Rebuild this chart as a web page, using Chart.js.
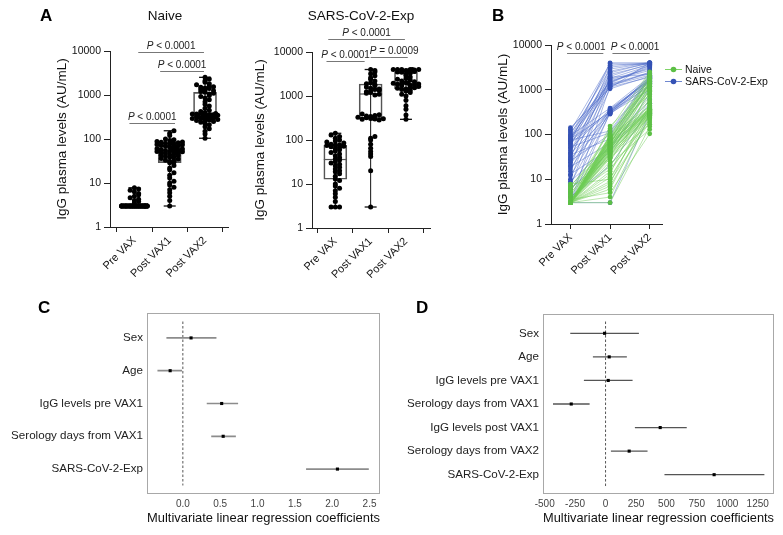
<!DOCTYPE html>
<html><head><meta charset="utf-8">
<script src="https://cdn.jsdelivr.net/npm/chart.js@4.4.0/dist/chart.umd.min.js"></script>
<style>
body{margin:0;background:#fff;width:783px;height:535px;position:relative;overflow:hidden;font-family:'Liberation Sans',Arial,sans-serif;}
canvas{position:absolute;}
.lbl{position:absolute;font-weight:bold;font-size:17px;color:#000;line-height:20px;}
.ttl{position:absolute;font-size:13.5px;color:#111;transform:translateX(-50%);white-space:nowrap;line-height:16px;}
</style></head><body>
<canvas id="a1" width="245" height="300" style="left:0;top:0"></canvas>
<canvas id="a2" width="232" height="300" style="left:248px;top:0"></canvas>
<canvas id="b" width="303" height="300" style="left:480px;top:0"></canvas>
<canvas id="c" width="400" height="245" style="left:0;top:290px"></canvas>
<canvas id="d" width="383" height="245" style="left:400px;top:290px"></canvas>
<div class="lbl" style="left:40px;top:6px">A</div>
<div class="ttl" style="left:165px;top:8px">Naive</div>
<div class="ttl" style="left:361px;top:8px">SARS-CoV-2-Exp</div>
<div class="lbl" style="left:492px;top:6px">B</div>
<div class="lbl" style="left:38px;top:298px">C</div>
<div class="lbl" style="left:416px;top:298px">D</div>
<script>
// ---------------- DATA ----------------
const categories = ['Pre VAX', 'Post VAX1', 'Post VAX2'];
const yTickValues = [1, 10, 100, 1000, 10000];

// Naive subjects (paired, one entry per subject)
const naivePre = [3,3,3.5,3,3,3,3,7.8,3,3, 3,4,3,3,3,3,6.3,3,3,3, 3,3.8,3,3,3,3,3,5,3,3,
  3,3,3,7.3,3,3,3,3,4.3,3, 3,3,3,3,5.8,3,3,3,3,3, 4.6,3,3,3,3,6.8,3,3,3,3, 3,5.4,3,3];
const naiveVax1 = [3,4,5,6,7,8,9,10,11,13,15,17,20,22,25,29,30,31,32,33,35,36,38,39,40,42,43,44,46,47,49,
  50,51,52,53,54,55,56,58,59,60,62,63,65,66,68,70,72,74,75,77,78,80,82,84,86,88,90,93,96,100,120,135,154];
const naiveVax2 = [150,260,104,300,225,500,190,340,270,1160,283,210,360,130,620,288,170,1300,240,305,
  390,250,850,320,278,1450,265,400,292,1050,330,355,1600,296,700,310,1200,368,345,1950,
  315,450,1400,325,980,372,1500,335,2100,350,1350,560,1800,365,920,1550,380,2300,1250,420,1700,780,2520,1100];

// SARS-CoV-2-Exp subjects (paired)
const sarsPre = [3,3,3,4,5,6,7,8,9,10,12,13,15,17,19,20,22,24,26,28,30,32,35,37,40,44,48,52,56,60,
  64,68,70,72,75,77,78,80,85,90,95,100,110,120,130,142];
const sarsVax1 = [3,310,1200,20,300,42,1500,340,55,2000,320,48,1050,360,65,2400,285,1300,100,350,
  3200,1700,80,295,1400,1800,375,110,2600,1150,305,4000,1600,330,120,2200,1900,315,3500,1250,390,2900,1350,3800,1450,1100];
const sarsVax2 = [295,1450,2500,370,1000,500,3100,1600,600,3800,1200,800,2000,1700,1100,4000,1300,2300,1350,1550,
  4000,2900,1400,1500,3300,3450,1650,1750,3900,1900,1800,4000,2700,1850,1880,3600,2200,1940,4000,2100,1960,4000,2400,3700,3500,4000];

// Box statistics per category: [min, q1, median, q3, max]
const naiveBox = [[3,3,3,3,7.8],[3,29,50,72,154],[104,295,370,1150,2520]];
const sarsBox = [[3,12.8,36,76,142],[3,310,1110,1870,4000],[295,1440,1950,3450,4000]];

// Panel C regression
const regCLabels = ['Sex','Age','IgG levels pre VAX1','Serology days from VAX1','SARS-CoV-2-Exp'];
const regCCoef = [0.11,-0.17,0.52,0.54,2.07];
const regCLow = [-0.22,-0.34,0.32,0.38,1.65];
const regCHigh = [0.45,-0.01,0.74,0.71,2.49];
const cTicks = [0,0.5,1,1.5,2,2.5];

// Panel D regression
const regDLabels = ['Sex','Age','IgG levels pre VAX1','Serology days from VAX1','IgG levels post VAX1','Serology days from VAX2','SARS-CoV-2-Exp'];
const regDCoef = [-8,30,22,-282,449,194,892];
const regDLow = [-290,-104,-178,-432,241,44,484];
const regDHigh = [274,175,222,-131,667,345,1305];
const dTicks = [-500,-250,0,250,500,750,1000,1250];

// ---------------- HELPERS ----------------
const FONT = "'Liberation Sans', Arial, sans-serif";
Chart.defaults.font.family = FONT;
Chart.defaults.color = '#111';

function swarm(values, center, binSize, step, maxK) {
  const bins = {};
  const per = 2 * maxK + 1;
  return values.map(v => {
    const b = Math.round(Math.log10(v) / binSize);
    const n = bins[b] = (bins[b] === undefined ? 0 : bins[b] + 1);
    const r = n % per, layer = Math.floor(n / per);
    const idx = Math.ceil(r / 2) * (r % 2 ? 1 : -1);
    let off = (idx + (layer % 2 ? 0.5 : 0)) * step;
    if (off > maxK * step) off -= step;
    return {x: center + off, y: v};
  });
}

const bracketPlugin = {
  id: 'brackets',
  afterDraw(chart, args, opts) {
    const {ctx} = chart; const xs = chart.scales.x, ys = chart.scales.y;
    ctx.save();
    for (const b of (opts.items || [])) {
      const x1 = xs.getPixelForValue(b.from), x2 = xs.getPixelForValue(b.to);
      const y = Math.round(ys.getPixelForValue(b.y)) + 0.5;
      ctx.strokeStyle = '#777'; ctx.lineWidth = 1;
      ctx.beginPath(); ctx.moveTo(x1, y); ctx.lineTo(x2, y); ctx.stroke();
      const italic = 'italic 10px ' + FONT, normal = '10px ' + FONT;
      ctx.font = italic; const wp = ctx.measureText('P').width;
      const rest = ' ' + b.text;
      ctx.font = normal; const wr = ctx.measureText(rest).width;
      const cx = (x1 + x2) / 2 + (b.dx || 0);
      const sx = cx - (wp + wr) / 2;
      ctx.fillStyle = '#222'; ctx.textAlign = 'left'; ctx.textBaseline = 'alphabetic';
      ctx.font = italic; ctx.fillText('P', sx, y - 3.5);
      ctx.font = normal; ctx.fillText(rest, sx + wp, y - 3.5);
    }
    ctx.restore();
  }
};

const framePlugin = {
  id: 'frame',
  afterDraw(chart, args, opts) {
    const {ctx, chartArea: a} = chart;
    ctx.save(); ctx.strokeStyle = opts.color || '#aaa'; ctx.lineWidth = 1;
    ctx.strokeRect(Math.round(a.left) + 0.5, Math.round(a.top) + 0.5, Math.round(a.width) - 1, Math.round(a.height) - 1);
    ctx.restore();
  }
};

// legend drawn to the right of the plot area from the datasets' own labels/colours
const sideLegend = {
  id: 'sideLegend',
  afterDraw(chart, args, opts) {
    const {ctx, chartArea: a} = chart;
    ctx.save();
    chart.data.datasets.forEach((ds, i) => {
      const x = a.right + opts.dx, y = opts.y0 + i * opts.gap;
      ctx.strokeStyle = ds.legendLine; ctx.lineWidth = 1;
      ctx.beginPath(); ctx.moveTo(x, y + 0.5); ctx.lineTo(x + 17, y + 0.5); ctx.stroke();
      ctx.fillStyle = ds.pointBackgroundColor;
      ctx.beginPath(); ctx.arc(x + 8.5, y + 0.5, 2.8, 0, Math.PI * 2); ctx.fill();
      ctx.font = '10.5px ' + FONT; ctx.fillStyle = '#111'; ctx.textAlign = 'left'; ctx.textBaseline = 'middle';
      ctx.fillText(ds.label, x + 20, y + 1);
    });
    ctx.restore();
  }
};

function logY(width, showTitle) {
  return {
    type: 'logarithmic', min: 1, max: 10000,
    afterBuildTicks: s => { s.ticks = yTickValues.map(v => ({value: v})); },
    afterFit: s => { s.width = width; },
    ticks: {callback: v => String(v), font: {size: 10.5}, color: '#111', padding: 3},
    grid: {display: true, drawOnChartArea: false, drawTicks: true, tickLength: 6, color: '#222', lineWidth: 1},
    border: {display: true, color: '#222', width: 1},
    title: {display: showTitle, text: 'IgG plasma levels (AU/mL)', font: {size: 13.5}, color: '#111', padding: {top: 4, bottom: 4}}
  };
}
function catX(min, max) {
  return {
    type: 'linear', min: min, max: max, offset: false,
    afterBuildTicks: s => { s.ticks = categories.map((c, i) => ({value: i + 1})); },
    afterFit: s => { s.height = 50; },
    ticks: {callback: v => categories[v - 1], font: {size: 11}, color: '#111', minRotation: 45, maxRotation: 45, autoSkip: false, padding: 2},
    grid: {display: true, drawOnChartArea: false, drawTicks: true, tickLength: 5, color: '#222'},
    border: {display: true, color: '#222', width: 1}
  };
}

function boxChart(id, pre, v1, v2, box, xmin, xmax, yWidth, pad, brackets) {
  const groups = [pre, v1, v2];
  let pts = [];
  groups.forEach((g, i) => { pts = pts.concat(swarm(g, i + 1, 0.08, 0.12, 3)); });
  const whisk = [], caps = [], med = [], boxes = [];
  box.forEach((s, i) => {
    whisk.push({x: i + 1, y: s[0]}, {x: i + 1, y: s[4]}, {x: i + 1, y: null});
    caps.push({x: i + 1, y: s[0]}, {x: i + 1, y: s[4]});
    med.push({x: i + 1, y: s[2]});
    boxes.push({x: i + 1, y: [s[1], s[3]]});
  });
  return new Chart(document.getElementById(id), {
    type: 'scatter',
    data: {datasets: [
      {type: 'scatter', data: pts, pointRadius: 2.5, pointBackgroundColor: '#000', pointBorderWidth: 0},
      {type: 'scatter', data: med, pointStyle: 'line', pointRadius: 11.5, pointBorderColor: '#555', pointBorderWidth: 1.2},
      {type: 'bar', data: boxes, backgroundColor: 'rgba(255,255,255,0)', borderColor: '#555', borderWidth: 1, borderSkipped: false, barThickness: 23, grouped: false},
      {type: 'scatter', data: caps, pointStyle: 'line', pointRadius: 6, pointBorderColor: '#111', pointBorderWidth: 1.3},
      {type: 'line', data: whisk, borderColor: '#111', borderWidth: 1, pointRadius: 0, spanGaps: false}
    ]},
    options: {
      responsive: false, animation: false, events: [],
      layout: {padding: pad},
      plugins: {legend: {display: false}, tooltip: {enabled: false}, brackets: {items: brackets}},
      scales: {x: catX(xmin, xmax), y: logY(yWidth, true)}
    },
    plugins: [bracketPlugin]
  });
}

boxChart('a1', naivePre, naiveVax1, naiveVax2, naiveBox, 0.31, 3.65, 60,
  {left: 50, right: 17, top: 51, bottom: 23},
  [{from: 0.86, to: 2.15, y: 234, text: '< 0.0001'},
   {from: 1.73, to: 2.97, y: 3500, text: '< 0.0001'},
   {from: 1.11, to: 2.97, y: 9660, text: '< 0.0001'}]);

boxChart('a2', sarsPre, sarsVax1, sarsVax2, sarsBox, 0.34, 3.68, 64,
  {left: 0, right: 50, top: 52, bottom: 22},
  [{from: 0.75, to: 1.83, y: 6240, text: '< 0.0001'},
   {from: 2.0, to: 3.05, y: 7830, text: '= 0.0009', dx: 5},
   {from: 0.8, to: 2.97, y: 19400, text: '< 0.0001'}]);

// ---------- Panel B ----------
function paired(a, b, c) {
  const out = [];
  a.forEach((v, i) => { out.push({x: 1, y: v}, {x: 2, y: b[i]}, {x: 3, y: c[i]}, {x: 3, y: null}); });
  return out;
}
new Chart(document.getElementById('b'), {
  type: 'line',
  data: {datasets: [
    {label: 'Naive', data: paired(naivePre, naiveVax1, naiveVax2), borderColor: 'rgba(110,205,85,0.8)', borderWidth: 0.6,
     pointRadius: 2.4, pointBackgroundColor: '#5cbf45', pointBorderWidth: 0, spanGaps: false, legendLine: '#7fd466'},
    {label: 'SARS-CoV-2-Exp', data: paired(sarsPre, sarsVax1, sarsVax2), borderColor: 'rgba(70,100,200,0.75)', borderWidth: 0.6,
     pointRadius: 2.4, pointBackgroundColor: '#3552b5', pointBorderWidth: 0, spanGaps: false, legendLine: '#7088d0'}
  ]},
  options: {
    responsive: false, animation: false, events: [],
    layout: {padding: {left: 11, right: 121, top: 45, bottom: 26}},
    plugins: {
      tooltip: {enabled: false},
      legend: {display: false},
      sideLegend: {dx: 3, y0: 69, gap: 12},
      brackets: {items: [
        {from: 0.915, to: 1.83, y: 6530, text: '< 0.0001', dx: -4},
        {from: 2.06, to: 3.0, y: 6530, text: '< 0.0001', dx: 4}]}
    },
    scales: {x: catX(0.51, 3.31), y: logY(60, true)}
  },
  plugins: [bracketPlugin, sideLegend]
});

// ---------- Panels C and D ----------
function ciSegments(lo, hi) {
  const out = [];
  lo.forEach((v, i) => { out.push({x: v, y: i}, {x: hi[i], y: i}, {x: hi[i], y: null}); });
  return out;
}
function forest(id, labels, coef, lo, hi, ticks, xmin, xmax, ymin, ymax, yWidth, pad, ciColor, ciWidth, fmt) {
  return new Chart(document.getElementById(id), {
    type: 'scatter',
    data: {datasets: [
      {type: 'scatter', data: coef.map((v, i) => ({x: v, y: i})), pointStyle: 'rect', pointRadius: 2.2,
       pointBackgroundColor: '#000', pointBorderWidth: 0},
      {type: 'line', data: ciSegments(lo, hi), borderColor: ciColor, borderWidth: ciWidth, pointRadius: 0, spanGaps: false},
      {type: 'line', data: [{x: 0, y: -0.5}, {x: 0, y: labels.length - 0.5}], borderColor: '#555', borderWidth: 1,
       borderDash: [2.5, 2], pointRadius: 0}
    ]},
    options: {
      responsive: false, animation: false, events: [],
      layout: {padding: pad},
      plugins: {legend: {display: false}, tooltip: {enabled: false}, frame: {color: '#a8a8a8'}},
      scales: {
        x: {type: 'linear', min: xmin, max: xmax,
          afterBuildTicks: s => { s.ticks = ticks.map(v => ({value: v})); },
          afterFit: s => { s.height = 36; },
          ticks: {callback: fmt, font: {size: 10}, color: '#444', padding: 4, autoSkip: false, maxRotation: 0},
          grid: {display: false, drawTicks: false}, border: {display: false},
          title: {display: true, text: 'Multivariate linear regression coefficients', font: {size: 13.3}, color: '#111', padding: {top: 0, bottom: 4}}},
        y: {type: 'linear', reverse: true, min: ymin, max: ymax,
          afterBuildTicks: s => { s.ticks = labels.map((l, i) => ({value: i})); },
          afterFit: s => { s.width = yWidth; },
          ticks: {callback: v => labels[v], font: {size: 11.6}, color: '#222', padding: 4, autoSkip: false},
          grid: {display: false, drawTicks: false}, border: {display: false}}
      }
    },
    plugins: [framePlugin]
  });
}
forest('c', regCLabels, regCCoef, regCLow, regCHigh, cTicks, -0.48, 2.64, -0.76, 4.76, 147,
  {left: 0, right: 20, top: 23, bottom: 5}, '#8c8c8c', 1.7, v => Number(v).toFixed(1));
forest('d', regDLabels, regDCoef, regDLow, regDHigh, dTicks, -514, 1384, -0.82, 6.82, 143,
  {left: 0, right: 9, top: 24, bottom: 5}, '#555', 1.3, v => String(v));
</script>
</body></html>
